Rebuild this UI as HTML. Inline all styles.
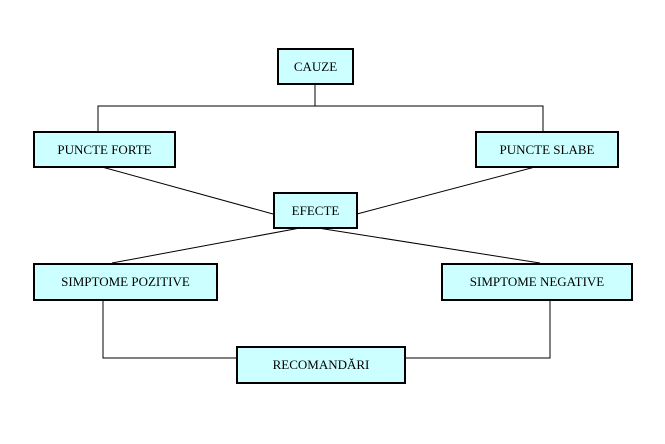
<!DOCTYPE html>
<html><head><meta charset="utf-8"><style>
body{margin:0;width:665px;height:444px;background:#fff;position:relative;overflow:hidden;font-family:"Liberation Serif",serif;}
.b{position:absolute;box-sizing:border-box;border:2px solid #000;background:#ccffff;font-size:13px;display:flex;align-items:center;justify-content:center;color:#000;}
svg{position:absolute;left:0;top:0;}
</style></head><body>
<svg width="665" height="444"><g stroke="#000" stroke-width="1" fill="none">
<polyline points="315,85 315,106"/>
<polyline points="98,131 98,106 543,106 543,131"/>
<line x1="102" y1="167" x2="273" y2="214"/>
<line x1="535" y1="167" x2="357" y2="214"/>
<line x1="300" y1="228" x2="112" y2="263"/>
<line x1="318" y1="228" x2="540" y2="263"/>
<polyline points="103,300 103,358 236,358"/>
<polyline points="550,300 550,358 405,358"/>
</g></svg>
<div class="b" style="left:277px;top:48px;width:77px;height:37px">CAUZE</div>
<div class="b" style="left:33px;top:131px;width:143px;height:37px">PUNCTE FORTE</div>
<div class="b" style="left:475px;top:131px;width:144px;height:37px">PUNCTE SLABE</div>
<div class="b" style="left:273px;top:192px;width:85px;height:37px">EFECTE</div>
<div class="b" style="left:33px;top:263px;width:185px;height:38px">SIMPTOME POZITIVE</div>
<div class="b" style="left:441px;top:263px;width:192px;height:38px">SIMPTOME NEGATIVE</div>
<div class="b" style="left:236px;top:346px;width:170px;height:38px">RECOMANDĂRI</div>
</body></html>
